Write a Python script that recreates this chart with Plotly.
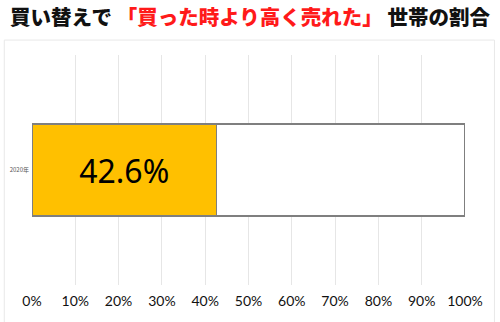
import plotly.graph_objects as go

categories = ["2020年"]
sold_higher = [42.6]
remainder = [57.4]
tick_vals = [0, 10, 20, 30, 40, 50, 60, 70, 80, 90, 100]
tick_text = ["0%", "10%", "20%", "30%", "40%", "50%", "60%", "70%", "80%", "90%", "100%"]

fig = go.Figure()
fig.add_trace(go.Bar(
    y=categories, x=sold_higher, orientation="h",
    marker=dict(color="#FFC000", line=dict(color="#7f7f7f", width=1.5)),
    text=[f"{v}%" for v in sold_higher], textposition="inside",
    insidetextanchor="middle",
    textfont=dict(family="Noto Sans", size=32, color="black"),
    hoverinfo="skip",
))
fig.add_trace(go.Bar(
    y=categories, x=remainder, orientation="h",
    marker=dict(color="white", line=dict(color="#7f7f7f", width=1.5)),
    hoverinfo="skip",
))

title = ("買い替えで <span style='color:#ff1a1a'>「買った時より高く売れた」</span> 世帯の割合")

fig.update_layout(
    width=500, height=322,
    barmode="stack", bargap=0.6,
    showlegend=False,
    paper_bgcolor="white", plot_bgcolor="white",
    margin=dict(l=32, r=35, t=55, b=37),
    title=dict(text=title, x=0.5, xanchor="center", y=0.945, yanchor="middle",
               font=dict(family="Noto Sans CJK JP", size=20.5, color="#111", weight=900)),
    xaxis=dict(range=[0, 100], tickvals=tick_vals, ticktext=tick_text,
               showgrid=True, gridcolor="#e6e6e6", gridwidth=1,
               zeroline=False, showline=False, ticks="",
               tickfont=dict(family="Lato", size=14, color="#111"),
               ticklabelstandoff=6, automargin=False),
    yaxis=dict(showgrid=False, zeroline=False, showline=False, ticks="",
               tickfont=dict(family="Noto Sans CJK JP", size=6, color="#555"),
               ticklabelstandoff=2, automargin=False),
    shapes=[dict(type="rect", xref="paper", yref="paper",
                 x0=-0.064, x1=1.068, y0=-0.2, y1=1.065,
                 line=dict(color="#e8e8e8", width=1), layer="below")],
)

fig.write_html("out.html")
